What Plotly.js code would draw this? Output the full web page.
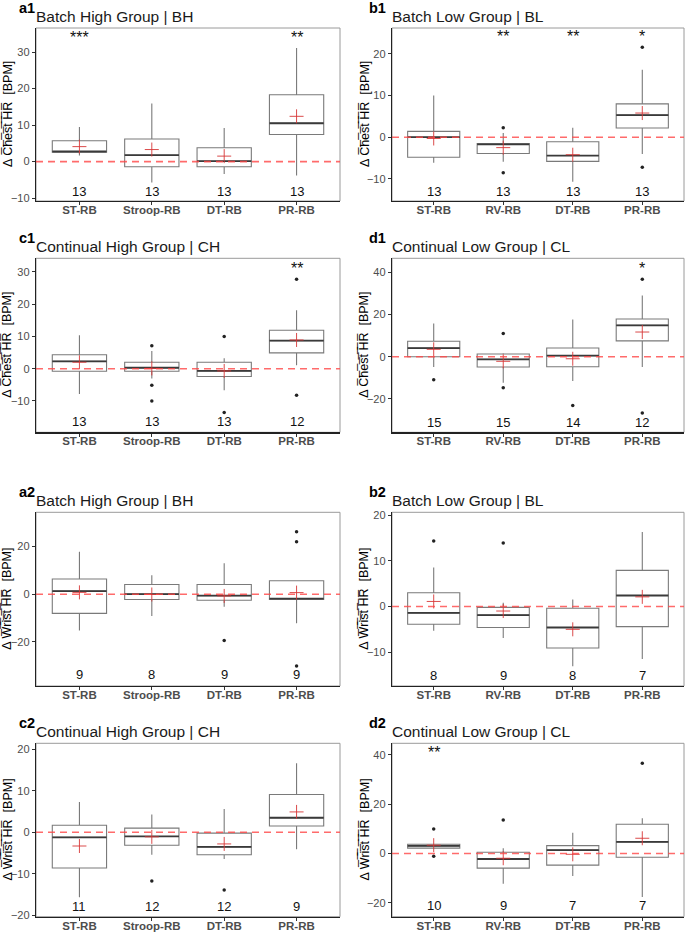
<!DOCTYPE html>
<html>
<head>
<meta charset="utf-8">
<script src="https://cdn.plot.ly/plotly-3.0.1.min.js"></script>
<style>html,body{margin:0;padding:0;background:#fff;}#chart{width:685px;height:932px;}</style>
</head>
<body>
<div id="chart"></div>
<script>
// ---------- categories ----------
const catsStroop = ['ST-RB', 'Stroop-RB', 'DT-RB', 'PR-RB'];
const catsRV = ['ST-RB', 'RV-RB', 'DT-RB', 'PR-RB'];

// ---------- a1: Batch High | Chest ----------
const a1_q1 = [2.6, -1.4, -1.4, 7.4];
const a1_med = [2.75, 1.75, 0.1, 10.5];
const a1_q3 = [5.7, 6.2, 3.8, 18.3];
const a1_lo = [1.7, -5.7, -3.4, -3.8];
const a1_hi = [9.5, 15.9, 9.2, 31.1];
const a1_mean = [4.1, 3.3, 1.5, 12.4];
const a1_out = [[], [], [], []];
const a1_n = [13, 13, 13, 13];
const a1_stars = ['***', '', '', '**'];

// ---------- b1: Batch Low | Chest ----------
const b1_q1 = [-4.8, -3.9, -5.8, 2.2];
const b1_med = [0.0, -1.7, -4.4, 5.3];
const b1_q3 = [1.4, -1.5, -1.1, 8.0];
const b1_lo = [-6.1, -5.9, -10.7, -4.0];
const b1_hi = [10.0, 1.0, 2.3, 16.2];
const b1_mean = [-0.3, -2.5, -4.2, 5.8];
const b1_out = [[], [2.3, -8.5], [], [21.6, -7.2]];
const b1_n = [13, 13, 13, 13];
const b1_stars = ['', '**', '**', '*'];

// ---------- c1: Continual High | Chest ----------
const c1_q1 = [-0.8, -0.8, -2.4, 4.9];
const c1_med = [2.3, 0.3, -0.7, 8.7];
const c1_q3 = [4.3, 2.0, 2.0, 11.9];
const c1_lo = [-7.8, -3.0, -6.7, 1.1];
const c1_hi = [10.4, 5.5, 3.2, 18.1];
const c1_mean = [2.0, 0.1, -0.7, 8.9];
const c1_out = [[], [7.1, -5.1, -10.0], [10.0, -13.6], [27.7, -8.2]];
const c1_n = [13, 13, 13, 12];
const c1_stars = ['', '', '', '**'];

// ---------- d1: Continual Low | Chest ----------
const d1_q1 = [0.0, -4.9, -4.8, 7.5];
const d1_med = [4.1, -1.3, 0.5, 14.9];
const d1_q3 = [7.3, 1.3, 4.1, 17.9];
const d1_lo = [-4.9, -12.4, -11.6, -4.9];
const d1_hi = [15.7, 1.6, 17.6, 29.0];
const d1_mean = [3.5, -2.2, -1.0, 11.7];
const d1_out = [[-11.0], [11.0, -14.8], [-23.2], [36.8, -26.7]];
const d1_n = [15, 15, 14, 12];
const d1_stars = ['', '', '', '*'];

// ---------- a2: Batch High | Wrist ----------
const a2_q1 = [-8.0, -2.2, -2.5, -2.2];
const a2_med = [1.3, 0.1, -0.6, -1.8];
const a2_q3 = [6.4, 4.1, 4.1, 5.7];
const a2_lo = [-15.2, -9.1, -5.2, -12.2];
const a2_hi = [17.8, 8.0, 13.0, 5.7];
const a2_mean = [0.8, -0.1, -0.7, 0.7];
const a2_out = [[], [], [-19.4], [26.2, 22.0, -30.1]];
const a2_n = [9, 8, 9, 9];
const a2_stars = ['', '', '', ''];

// ---------- b2: Batch Low | Wrist ----------
const b2_q1 = [-3.9, -4.6, -9.1, -4.4];
const b2_med = [-1.4, -1.9, -4.6, 2.4];
const b2_q3 = [3.0, -0.2, -0.4, 7.9];
const b2_lo = [-5.3, -6.9, -13.1, -11.5];
const b2_hi = [8.5, 0.8, 1.5, 16.3];
const b2_mean = [1.1, -1.0, -5.0, 2.1];
const b2_out = [[14.3], [13.9], [], []];
const b2_n = [8, 9, 8, 7];
const b2_stars = ['', '', '', ''];

// ---------- c2: Continual High | Wrist ----------
const c2_q1 = [-8.6, -3.1, -5.4, 1.5];
const c2_med = [-1.2, -1.0, -3.5, 3.5];
const c2_q3 = [1.7, 1.0, -0.2, 9.1];
const c2_lo = [-15.6, -5.4, -6.4, -4.1];
const c2_hi = [7.3, 4.3, 5.6, 16.6];
const c2_mean = [-3.3, -1.1, -2.8, 4.9];
const c2_out = [[], [-11.7], [-13.9], []];
const c2_n = [11, 12, 12, 9];
const c2_stars = ['', '', '', ''];

// ---------- d2: Continual Low | Wrist ----------
const d2_q1 = [2.2, -5.9, -4.7, -1.5];
const d2_med = [3.1, -2.2, 1.4, 4.7];
const d2_q3 = [3.8, 0.5, 3.2, 11.9];
const d2_lo = [2.2, -12.2, -9.1, -17.6];
const d2_hi = [3.8, 2.2, 8.4, 14.3];
const d2_mean = [3.4, -1.9, -0.3, 6.2];
const d2_out = [[10.0, -1.1], [13.6], [], [36.6]];
const d2_n = [10, 9, 7, 7];
const d2_stars = ['**', '', '', ''];

// ---------- panel meta ----------
const panelLabels = ['a1', 'b1', 'c1', 'd1', 'a2', 'b2', 'c2', 'd2'];
const panelTitles = ['Batch High Group | BH', 'Batch Low Group | BL', 'Continual High Group | CH', 'Continual Low Group | CL',
                     'Batch High Group | BH', 'Batch Low Group | BL', 'Continual High Group | CH', 'Continual Low Group | CL'];

// ---------- layout geometry (pixels) ----------
const W = 685, H = 932;
const colPx = [[36, 340], [392, 684]];
const rowPx = [[28, 201], [258.3, 432.3], [512.3, 686], [743.3, 916.7]];
const yTitleX = [7.5, 364.5];
const yRanges = [[-10.8, 36.6], [-15.3, 26.2], [-19.7, 34.2], [-35.9, 46.7],
                 [-38.5, 34.4], [-17.4, 20.6], [-20.3, 21.4], [-25.6, 44.7]];
const yTicks = [[-10, 0, 10, 20, 30], [-10, 0, 10, 20], [-10, 0, 10, 20, 30], [-20, 0, 20, 40],
                [-20, 0, 20], [-10, 0, 10, 20], [-20, -10, 0, 10, 20], [-20, 0, 20, 40]];
const countY = [-8.3, -12.9, -16.4, -31.1, -33.8, -15.0, -17.8, -21.1];
const starY = [35.2, 25.1, 32.3, 43.8, 0, 0, 0, 42.7];

const panels = [
  [catsStroop, a1_q1, a1_med, a1_q3, a1_lo, a1_hi, a1_mean, a1_out, a1_n, a1_stars],
  [catsRV, b1_q1, b1_med, b1_q3, b1_lo, b1_hi, b1_mean, b1_out, b1_n, b1_stars],
  [catsStroop, c1_q1, c1_med, c1_q3, c1_lo, c1_hi, c1_mean, c1_out, c1_n, c1_stars],
  [catsRV, d1_q1, d1_med, d1_q3, d1_lo, d1_hi, d1_mean, d1_out, d1_n, d1_stars],
  [catsStroop, a2_q1, a2_med, a2_q3, a2_lo, a2_hi, a2_mean, a2_out, a2_n, a2_stars],
  [catsRV, b2_q1, b2_med, b2_q3, b2_lo, b2_hi, b2_mean, b2_out, b2_n, b2_stars],
  [catsStroop, c2_q1, c2_med, c2_q3, c2_lo, c2_hi, c2_mean, c2_out, c2_n, c2_stars],
  [catsRV, d2_q1, d2_med, d2_q3, d2_lo, d2_hi, d2_mean, d2_out, d2_n, d2_stars]
];

const FONT = 'Liberation Sans, Arial, sans-serif';
const BOXW = 0.75;
const MEANRED = 'rgba(215,55,55,0.9)';
const overline = s => [...s].map(c => c + '\u0305').join('');
const chestTitle = 'Δ ' + overline('Chest HR') + '\u00a0\u00a0[BPM]';
const wristTitle = 'Δ ' + overline('Wrist HR') + '\u00a0\u00a0[BPM]';

const traces = [];
const layout = {
  width: W, height: H,
  margin: {l: 0, r: 0, t: 0, b: 0},
  paper_bgcolor: '#fff', plot_bgcolor: '#fff',
  showlegend: false,
  font: {family: FONT, color: '#000'},
  annotations: [], shapes: []
};

panels.forEach((p, k) => {
  const [cats, q1, med, q3, lo, hi, mean, out, n, stars] = p;
  const id = k === 0 ? '' : String(k + 1);
  const xa = 'x' + id, ya = 'y' + id;
  const col = k % 2, row = Math.floor(k / 2);
  const pos = cats.map((c, i) => i);

  // box
  traces.push({
    type: 'box', xaxis: xa, yaxis: ya,
    x: pos, q1: q1, median: med, q3: q3, lowerfence: lo, upperfence: hi,
    width: BOXW, whiskerwidth: 0,
    fillcolor: 'rgba(255,255,255,0)',
    line: {color: '#7a7a7a', width: 1.1},
    hoverinfo: 'skip'
  });
  // thicker median line
  const mx = [], my = [];
  pos.forEach((xi, i) => { mx.push(xi - BOXW / 2, xi + BOXW / 2, null); my.push(med[i], med[i], null); });
  traces.push({type: 'scatter', mode: 'lines', xaxis: xa, yaxis: ya, x: mx, y: my,
    line: {color: '#3a3a3a', width: 1.8}, hoverinfo: 'skip'});
  // outliers
  const ox = [], oy = [];
  out.forEach((arr, i) => arr.forEach(v => { ox.push(pos[i]); oy.push(v); }));
  traces.push({type: 'scatter', mode: 'markers', xaxis: xa, yaxis: ya, x: ox, y: oy,
    marker: {color: '#222', size: 3.5}, hoverinfo: 'skip'});
  // means
  traces.push({type: 'scatter', mode: 'markers', xaxis: xa, yaxis: ya, x: pos, y: mean,
    marker: {symbol: 'cross-thin-open', size: 10, color: MEANRED, line: {color: MEANRED, width: 1}}, hoverinfo: 'skip'});

  const dom = [colPx[col][0] / W, colPx[col][1] / W];
  const ydom = [1 - rowPx[row][1] / H, 1 - rowPx[row][0] / H];
  layout['xaxis' + id] = {
    domain: dom, anchor: ya, range: [-0.6, 3.6],
    tickvals: pos, ticktext: cats.map(c => '<b>' + c + '</b>'),
    tickfont: {size: 11.5, color: '#4d4d4d', family: FONT},
    ticks: 'outside', ticklen: 3, tickcolor: '#333', tickwidth: 1,
    ticklabelstandoff: -5,
    showline: true, linecolor: '#222', linewidth: 1.2,
    showgrid: false, zeroline: false, fixedrange: true
  };
  layout['yaxis' + id] = {
    domain: ydom, anchor: xa, range: yRanges[k],
    tickvals: yTicks[k],
    tickfont: {size: 11, color: '#4d4d4d', family: FONT},
    ticks: 'outside', ticklen: 3, tickcolor: '#333', tickwidth: 1,
    showline: true, linecolor: '#222', linewidth: 1.2,
    showgrid: false, zeroline: false, fixedrange: true
  };
  // y-axis title
  layout.annotations.push({xref: 'paper', yref: ya + ' domain', x: yTitleX[col] / W, y: 0.5,
    xanchor: 'center', yanchor: 'middle', textangle: -90, showarrow: false,
    text: row < 2 ? chestTitle : wristTitle, font: {size: 12.5, color: '#000', family: FONT}});
  // border
  layout.shapes.push({type: 'rect', xref: xa + ' domain', yref: ya + ' domain', x0: 0, x1: 1, y0: 0, y1: 1,
    line: {color: '#9a9a9a', width: 1}, layer: 'below'});
  // zero reference line
  layout.shapes.push({type: 'line', xref: xa + ' domain', yref: ya, x0: 0, x1: 1, y0: 0, y1: 0,
    line: {color: 'rgba(255,70,70,0.8)', width: 1.6, dash: '7px,5px'}, layer: 'above'});

  // panel label and title
  layout.annotations.push({xref: 'paper', yref: ya + ' domain', x: (col === 0 ? 17 : 367) / W, y: 1,
    xanchor: 'left', yanchor: 'middle', yshift: 20, showarrow: false,
    text: '<b>' + panelLabels[k] + '</b>', font: {size: 14.5, color: '#000', family: FONT}});
  layout.annotations.push({xref: xa + ' domain', yref: ya + ' domain', x: 0, y: 1,
    xanchor: 'left', yanchor: 'middle', xshift: -2, yshift: 12, showarrow: false,
    text: panelTitles[k], font: {size: 15.5, color: '#1a1a1a', family: FONT}});
  // counts and stars
  pos.forEach((xi, i) => {
    layout.annotations.push({xref: xa, yref: ya, x: xi, y: countY[k], showarrow: false,
      text: String(n[i]), font: {size: 13, color: '#111', family: FONT}});
    if (stars[i]) {
      layout.annotations.push({xref: xa, yref: ya, x: xi, y: starY[k], yshift: -4, showarrow: false,
        text: stars[i], font: {size: 16, color: '#111', family: FONT}});
    }
  });
});

Plotly.newPlot('chart', traces, layout, {staticPlot: true, displayModeBar: false});
</script>
</body>
</html>
